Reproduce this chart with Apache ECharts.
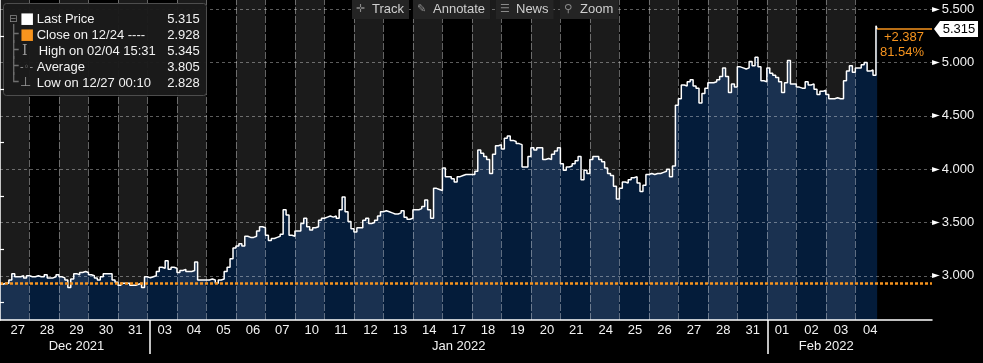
<!DOCTYPE html>
<html><head><meta charset="utf-8">
<script src="https://cdn.jsdelivr.net/npm/echarts@6/dist/echarts.min.js"></script>
<style>html,body{margin:0;padding:0;background:#000;}#c{width:983px;height:363px;}</style>
</head><body><div id="c"></div>
<script>
// ---------------- data ----------------
const dayLabels = ['27','28','29','30','31','03','04','05','06','07','10','11','12','13','14','17','18','19','20','21','24','25','26','27','28','31','01','02','03','04'];
const monthNames = ['Dec 2021','Jan 2022','Feb 2022'];
const monthDayCounts = [5, 21, 4];
const yTicks = [3.0, 3.5, 4.0, 4.5, 5.0, 5.5];
const closePrice = 2.928;
const lastPrice = 5.315;
const lastDayFraction = 0.74;
const samplesPerDay = 10;
const intradayPrices = [
  [2.92, 2.93, 2.93, 2.96, 3.02, 2.99, 2.99, 3.00, 2.98, 3.00],
  [2.99, 2.99, 3.00, 2.99, 2.99, 3.01, 2.98, 2.98, 2.99, 3.01],
  [2.99, 2.98, 2.96, 2.89, 2.97, 3.02, 3.01, 3.03, 3.04, 3.03],
  [3.01, 3.00, 2.98, 2.96, 2.99, 3.02, 3.02, 3.02, 2.96, 2.94],
  [2.91, 2.93, 2.93, 2.93, 2.91, 2.91, 2.92, 2.93, 2.89, 2.99],
  [2.98, 2.99, 3.00, 3.04, 3.08, 3.07, 3.14, 3.06, 3.08, 3.07],
  [3.03, 3.05, 3.06, 3.04, 3.04, 3.05, 3.13, 2.96, 2.96, 2.96],
  [2.96, 2.97, 2.96, 2.93, 2.96, 2.97, 3.04, 3.08, 3.16, 3.26],
  [3.28, 3.30, 3.28, 3.37, 3.36, 3.36, 3.37, 3.42, 3.46, 3.45],
  [3.38, 3.33, 3.35, 3.36, 3.37, 3.39, 3.62, 3.57, 3.38, 3.37],
  [3.42, 3.42, 3.49, 3.54, 3.46, 3.43, 3.45, 3.46, 3.52, 3.54],
  [3.55, 3.56, 3.55, 3.56, 3.54, 3.62, 3.74, 3.60, 3.51, 3.44],
  [3.41, 3.45, 3.45, 3.52, 3.54, 3.49, 3.50, 3.52, 3.56, 3.60],
  [3.61, 3.60, 3.59, 3.58, 3.58, 3.59, 3.61, 3.55, 3.53, 3.54],
  [3.62, 3.62, 3.63, 3.65, 3.71, 3.62, 3.54, 3.82, 3.81, 3.80],
  [4.01, 3.93, 3.93, 3.91, 3.88, 3.93, 3.94, 3.95, 3.95, 3.95],
  [3.95, 3.98, 4.18, 4.15, 4.12, 4.09, 3.96, 4.14, 4.22, 4.23],
  [4.19, 4.29, 4.31, 4.27, 4.26, 4.24, 4.23, 4.02, 4.02, 4.12],
  [4.20, 4.18, 4.20, 4.20, 4.09, 4.10, 4.09, 4.14, 4.17, 4.20],
  [4.05, 3.99, 4.02, 4.03, 4.05, 4.08, 4.12, 3.90, 3.99, 3.96],
  [4.09, 4.12, 4.12, 4.09, 4.07, 4.01, 3.96, 3.94, 3.84, 3.72],
  [3.82, 3.88, 3.87, 3.90, 3.92, 3.93, 3.87, 3.79, 3.85, 3.95],
  [3.96, 3.95, 3.96, 3.96, 3.97, 3.98, 4.00, 3.93, 4.03, 4.60],
  [4.66, 4.79, 4.78, 4.82, 4.84, 4.78, 4.76, 4.62, 4.71, 4.76],
  [4.81, 4.81, 4.82, 4.84, 4.87, 4.95, 4.87, 4.72, 4.80, 4.77],
  [4.96, 4.95, 4.94, 4.95, 5.01, 4.97, 5.05, 4.96, 4.83, 4.82],
  [4.95, 4.90, 4.88, 4.86, 4.82, 4.72, 4.81, 5.02, 4.80, 4.80],
  [4.77, 4.76, 4.76, 4.82, 4.79, 4.80, 4.75, 4.70, 4.73, 4.74],
  [4.70, 4.66, 4.66, 4.67, 4.66, 4.66, 4.83, 4.92, 4.97, 4.91],
  [4.95, 4.95, 4.98, 5.00, 4.92, 4.93, 4.88, 5.345]
];
const statLabels = ['Last Price', 'Close on 12/24 ----', 'High on 02/04 15:31', 'Average', 'Low on 12/27 00:10'];
const statValues = ['5.315', '2.928', '5.345', '3.805', '2.828'];
const changeTexts = ['+2.387', '81.54%'];
const toolbarButtons = ['Track', 'Annotate', 'News', 'Zoom'];

// ---------------- styling constants ----------------
const LIGHT_NAVY = '#1a3150', DARK_NAVY = '#041c3a', BAND_GRAY = '#1b1b1b', ORANGE = '#f7941e';
const TXT = '#f2f2f2';
const FONT = 'Liberation Sans, Arial, sans-serif';
const X_MAX = 31.6, Y_MIN = 2.585, Y_MAX = 5.587;

// ---------------- build ----------------
const nDays = dayLabels.length;
const priceData = [];
intradayPrices.forEach((arr, d) => arr.forEach((v, j) => priceData.push([d + j / samplesPerDay, v])));
const lastX = nDays - 1 + lastDayFraction;
priceData.push([lastX, lastPrice]);

const bandData = [];
for (let d = 0; d < nDays; d += 2) bandData.push([{ xAxis: d }, { xAxis: d + 1 }]);
const pieces = dayLabels.map((_, d) => ({ gte: d, lt: d + 1, color: d % 2 === 0 ? LIGHT_NAVY : DARK_NAVY }));

const gridLineData = [];
for (let d = 1; d < nDays; d++) gridLineData.push({ xAxis: d, lineStyle: { type: [7, 2] } });
yTicks.forEach(v => gridLineData.push({ yAxis: v, lineStyle: { type: [3, 3] } }));

const halfDay = new Array(nDays * 2 + 1).fill('');
const monthStarts = [];
let acc = 0;
monthNames.forEach((m, i) => { monthStarts.push(2 * acc); halfDay[2 * acc + monthDayCounts[i]] = m; acc += monthDayCounts[i]; });

const treeRich = ['{t0|⊟}', '{tr|├}', '{tr|├}', '{tr|├}', '{tr|└}'];
const iconRich = ['{sw|■}', '{so|■}', '{hi|I}', '{av|-◦-}', '{lo|⊥}'];
const legendText = statLabels.map((l, i) => treeRich[i] + iconRich[i] + '{lb|' + l + '}{vl|' + statValues[i] + '}').join('\n');

const toolbarIcons = ['✛', '✎', '☰', '⚲'];
const toolbarLeft = [352, 413, 496, 560];
const toolbarTitles = toolbarButtons.map((b, i) => ({
  text: '{i|' + toolbarIcons[i] + '}{t|' + b + '}',
  left: toolbarLeft[i], top: 0,
  padding: [3, 5, 3, 4],
  backgroundColor: '#242424',
  textStyle: {
    fontWeight: 'normal',
    rich: {
      i: { fontFamily: 'DejaVu Sans', fontSize: 11, color: '#8a8a8a', width: 16, fontWeight: 'normal' },
      t: { fontFamily: FONT, fontSize: 13, color: '#cfcfcf', fontWeight: 'normal' }
    }
  }
}));

const chart = echarts.init(document.getElementById('c'));
chart.setOption({
  animation: false,
  backgroundColor: '#000',
  title: [{
    text: legendText,
    left: 3, top: 3,
    padding: [8, 7, 5, 6],
    backgroundColor: 'rgba(27,27,27,0.97)',
    borderColor: '#4d4d4d', borderWidth: 1, borderRadius: 3,
    textStyle: {
      lineHeight: 16, fontWeight: 'normal',
      rich: {
        t0: { fontFamily: 'DejaVu Sans', fontSize: 10, color: '#8a8a8a', width: 11, lineHeight: 16, fontWeight: 'normal' },
        tr: { fontFamily: 'DejaVu Sans Mono', fontSize: 16, color: '#6f6f6f', width: 11, lineHeight: 16, fontWeight: 'normal' },
        sw: { fontFamily: 'DejaVu Sans', fontSize: 15, color: '#ffffff', width: 16.7, lineHeight: 16, fontWeight: 'normal' },
        so: { fontFamily: 'DejaVu Sans', fontSize: 15, color: ORANGE, width: 16.7, lineHeight: 16, fontWeight: 'normal' },
        hi: { fontFamily: 'DejaVu Serif', fontSize: 14, color: '#9a9a9a', width: 16.7, lineHeight: 16, padding: [0, 0, 0, 2], fontWeight: 'normal' },
        av: { fontFamily: 'DejaVu Sans', fontSize: 10, color: '#9a9a9a', width: 16.7, lineHeight: 16, fontWeight: 'normal' },
        lo: { fontFamily: 'DejaVu Sans', fontSize: 13, color: '#9a9a9a', width: 16.7, lineHeight: 16, fontWeight: 'normal' },
        lb: { fontFamily: FONT, fontSize: 13, color: TXT, width: 126, lineHeight: 16, fontWeight: 'normal' },
        vl: { fontFamily: FONT, fontSize: 13, color: TXT, width: 35, align: 'right', lineHeight: 16, fontWeight: 'normal' }
      }
    }
  }].concat(toolbarTitles),
  grid: [
    { left: 0, right: 51, top: 0, bottom: 43 },
    { left: 0, width: 885, top: 0, bottom: 43 }
  ],
  xAxis: [
    { type: 'value', gridIndex: 0, min: 0, max: X_MAX, position: 'bottom', z: 10,
      axisLine: { show: true, lineStyle: { color: '#ffffff', width: 1.5 } },
      axisTick: { show: false }, axisLabel: { show: false }, splitLine: { show: false } },
    { type: 'category', gridIndex: 1, data: dayLabels, boundaryGap: true, position: 'bottom',
      axisLine: { show: false }, axisTick: { show: false }, splitLine: { show: false },
      axisLabel: { interval: 0, margin: 4, color: TXT, fontFamily: FONT, fontSize: 13 } },
    { type: 'category', gridIndex: 1, data: halfDay, boundaryGap: false, position: 'bottom', z: 10,
      axisLine: { show: false }, splitLine: { show: false },
      axisTick: { show: true, length: 34, interval: (idx) => idx > 0 && monthStarts.indexOf(idx) >= 0,
        lineStyle: { color: '#ffffff', width: 1.5 } },
      axisLabel: { interval: 0, margin: 20, color: TXT, fontFamily: FONT, fontSize: 13 } }
  ],
  yAxis: [
    { type: 'value', gridIndex: 0, position: 'right', min: Y_MIN, max: Y_MAX, splitNumber: 6, z: 10,
      axisLine: { show: true, lineStyle: { color: '#ffffff', width: 1.5 } },
      axisTick: { show: false },
      minorTick: { show: true, splitNumber: 2, length: 4, lineStyle: { color: '#ffffff', width: 1.2 } },
      splitLine: { show: false },
      axisLabel: {
        margin: 0,
        formatter: v => (Math.abs(v * 2 - Math.round(v * 2)) < 1e-6) ? '{t|►}{v|' + v.toFixed(3) + '}' : '',
        rich: {
          t: { fontFamily: 'DejaVu Sans', fontSize: 10, color: '#ffffff', padding: [0, 2, 0, 0] },
          v: { fontFamily: FONT, fontSize: 13, color: TXT }
        }
      } },
    { type: 'value', gridIndex: 1, show: false }
  ],
  visualMap: {
    show: false, type: 'piecewise', seriesIndex: 0, dimension: 0, pieces: pieces
  },
  series: [
    {
      name: 'fill', type: 'line', xAxisIndex: 0, yAxisIndex: 0, step: 'end',
      data: priceData, showSymbol: false, symbol: 'none', z: 2,
      lineStyle: { width: 0, opacity: 0 },
      areaStyle: { opacity: 1 },
      silent: true,
      markArea: { silent: true, z: 1, itemStyle: { color: BAND_GRAY }, data: bandData },
      markLine: { silent: true, z: 2.5, symbol: 'none', label: { show: false },
        lineStyle: { color: 'rgba(255,255,255,0.36)', width: 1 }, data: gridLineData }
    },
    {
      name: 'Last Price', type: 'line', xAxisIndex: 0, yAxisIndex: 0, step: 'end',
      data: priceData, showSymbol: false, symbol: 'none', z: 3,
      lineStyle: { color: '#ffffff', width: 1.5 },
      silent: true,
      markLine: { silent: true, z: 5, symbol: 'none', label: { show: false },
        data: [
          [{ coord: [0, closePrice] }, { coord: [X_MAX, closePrice] , lineStyle: { color: ORANGE, width: 2.5, type: [3, 2] } }],
          [{ coord: [lastX, lastPrice] }, { coord: [X_MAX, lastPrice], lineStyle: { color: ORANGE, width: 1.5, type: 'solid' } }]
        ] },
      markPoint: { silent: true, z: 6,
        data: [
          { coord: [X_MAX, lastPrice], symbol: 'path://M0,8 L6,0 L44,0 L44,16 L6,16 Z',
            symbolSize: [44, 16], symbolOffset: [24, 0], symbolKeepAspect: false,
            itemStyle: { color: '#ffffff' },
            label: { show: true, position: 'inside', offset: [3, 0], formatter: lastPrice.toFixed(3),
              color: '#000', fontFamily: FONT, fontSize: 13 } },
          { coord: [X_MAX, lastPrice], symbol: 'rect', symbolSize: 0,
            label: { show: true, position: 'left', distance: 8, offset: [0, 16],
              formatter: changeTexts.join('\n'), align: 'right', lineHeight: 15.5,
              color: ORANGE, fontFamily: FONT, fontSize: 13 } }
        ] }
    }
  ]
});
</script></body></html>
